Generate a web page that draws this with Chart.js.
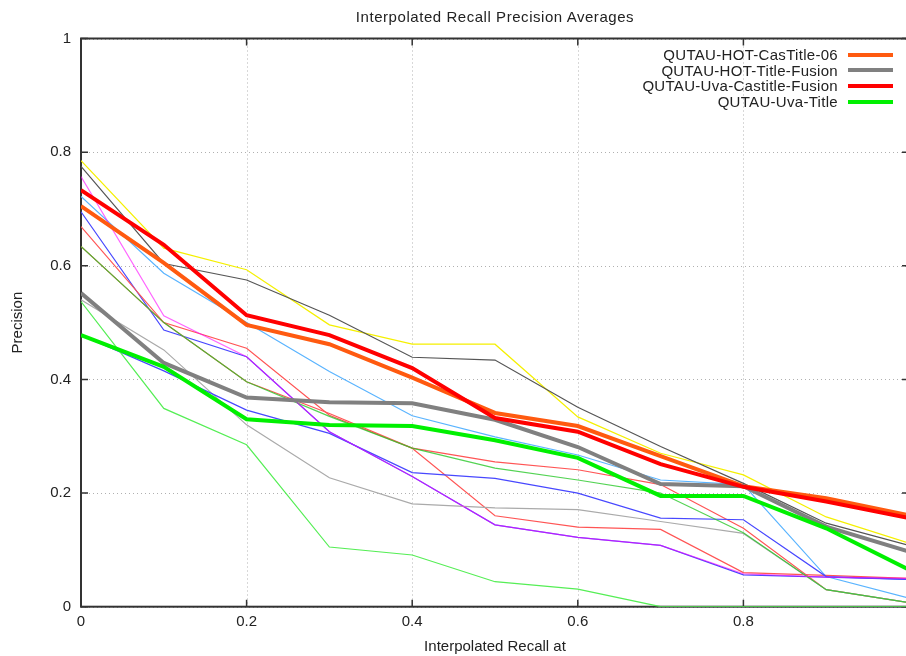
<!DOCTYPE html>
<html>
<head>
<meta charset="utf-8">
<script src="https://cdn.jsdelivr.net/npm/chart.js@4.4.0/dist/chart.umd.min.js"></script>
<style>
  html, body { margin: 0; padding: 0; background: #fff; overflow: hidden; }
  #wrap { position: relative; width: 910px; height: 656px; }
  #title { position: absolute; top: 8px; left: 81px; width: 828px; text-align: center;
           font: 15px "Liberation Sans", Arial, sans-serif; letter-spacing: 0.55px; color: #222; }
  #legend { position: absolute; top: 47px; right: 17px; font: 15px "Liberation Sans", Arial, sans-serif;
            letter-spacing: 0.3px; color: #222; }
  #legend .row { display: flex; align-items: center; justify-content: flex-end; height: 15.6px; }
  #legend .swatch { width: 45px; height: 4px; margin-left: 10px; }
</style>
</head>
<body>
<div id="wrap">
  <canvas id="rp" width="910" height="656"></canvas>
  <div id="title">Interpolated Recall Precision Averages</div>
  <div id="legend"></div>
</div>
<script>
// axes
const recall = [0, 0.1, 0.2, 0.3, 0.4, 0.5, 0.6, 0.7, 0.8, 0.9, 1];
const recallTicks = [0, 0.2, 0.4, 0.6, 0.8, 1];
const recallLabels = ['0', '0.2', '0.4', '0.6', '0.8', ''];
const precisionTicks = [0, 0.2, 0.4, 0.6, 0.8, 1];
const precisionLabels = ['0', '0.2', '0.4', '0.6', '0.8', '1'];

// runs mises en avant (legende)
const names = ['QUTAU-HOT-CasTitle-06', 'QUTAU-HOT-Title-Fusion', 'QUTAU-Uva-Castitle-Fusion', 'QUTAU-Uva-Title'];
const hotCasTitle06 = [0.705, 0.605, 0.496, 0.462, 0.403, 0.341, 0.318, 0.265, 0.212, 0.191, 0.161];
const hotTitleFusion = [0.552, 0.429, 0.368, 0.360, 0.358, 0.329, 0.281, 0.216, 0.212, 0.141, 0.097];
const uvaCastitleFusion = [0.733, 0.637, 0.513, 0.478, 0.420, 0.332, 0.308, 0.251, 0.211, 0.185, 0.156];
const uvaTitle = [0.478, 0.422, 0.330, 0.320, 0.318, 0.293, 0.262, 0.195, 0.195, 0.138, 0.065];

// autres runs (traits fins)
const runYellow = [0.785, 0.631, 0.593, 0.496, 0.462, 0.462, 0.334, 0.270, 0.232, 0.158, 0.112];
const runDarkGray = [0.775, 0.604, 0.575, 0.513, 0.439, 0.434, 0.351, 0.282, 0.217, 0.147, 0.108];
const runMagenta = [0.757, 0.512, 0.440, 0.308, 0.229, 0.144, 0.122, 0.108, 0.058, 0.052, 0.050];
const runSkyBlue = [0.722, 0.587, 0.500, 0.414, 0.336, 0.299, 0.267, 0.223, 0.215, 0.053, 0.015];
const runBlue = [0.695, 0.487, 0.440, 0.308, 0.229, 0.144, 0.122, 0.108, 0.056, 0.052, 0.048];
const runRedA = [0.669, 0.500, 0.455, 0.337, 0.279, 0.160, 0.140, 0.136, 0.060, 0.055, 0.050];
const runRedB = [0.634, 0.500, 0.396, 0.340, 0.279, 0.255, 0.241, 0.215, 0.138, 0.030, 0.007];
const runGreen = [0.634, 0.500, 0.396, 0.335, 0.279, 0.244, 0.223, 0.200, 0.130, 0.030, 0.007];
const runLightGray = [0.540, 0.452, 0.320, 0.227, 0.181, 0.174, 0.171, 0.150, 0.129, 0.030, 0.007];
const runLightGreen = [0.537, 0.349, 0.285, 0.105, 0.091, 0.044, 0.031, 0, 0, 0, 0];
const runBlue2 = [0.478, 0.415, 0.346, 0.305, 0.236, 0.226, 0.200, 0.156, 0.153, 0.053, 0.048];

const pts = arr => arr.map((v, i) => ({ x: recall[i], y: v }));

function thin(values, color, order) {
  return { data: pts(values), borderColor: color, borderWidth: 1.2, pointRadius: 0, order: order };
}
function thick(label, values, color, order) {
  return { label: label, data: pts(values), borderColor: color, borderWidth: 4, pointRadius: 0, order: order };
}

const thickColors = ['#ff5a10', '#808080', '#ff0000', '#00f000'];

const datasets = [
  thick(names[0], hotCasTitle06, thickColors[0], 4),
  thick(names[1], hotTitleFusion, thickColors[1], 3),
  thick(names[2], uvaCastitleFusion, thickColors[2], 2),
  thick(names[3], uvaTitle, thickColors[3], 1),
  thin(runYellow, '#f5f000', 20),
  thin(runDarkGray, '#555555', 19),
  thin(runMagenta, 'rgba(255,0,255,0.6)', 10),
  thin(runSkyBlue, '#5ab4ff', 18),
  thin(runBlue, '#4848ff', 17),
  thin(runRedA, '#ff5555', 16),
  thin(runRedB, '#ff5555', 15),
  thin(runGreen, 'rgba(40,200,40,0.8)', 11),
  thin(runLightGray, '#aaaaaa', 14),
  thin(runLightGreen, '#55ee55', 12),
  thin(runBlue2, '#4848ff', 13)
];

// grille pointillee, cadre + graduations vers l'interieur (style gnuplot)
const frameTicks = {
  id: 'frameTicks',
  beforeDatasetsDraw(chart) {
    const { ctx, chartArea: a, scales: { x, y } } = chart;
    ctx.save();
    ctx.strokeStyle = '#b0b0b0';
    ctx.lineWidth = 1;
    ctx.setLineDash([1, 3]);
    ctx.beginPath();
    recallTicks.forEach(v => {
      const px = Math.round(x.getPixelForValue(v)) + 0.5;
      ctx.moveTo(px, a.top); ctx.lineTo(px, a.bottom);
    });
    precisionTicks.forEach(v => {
      const py = Math.round(y.getPixelForValue(v)) + 0.5;
      ctx.moveTo(a.left, py); ctx.lineTo(a.right, py);
    });
    ctx.stroke();
    ctx.setLineDash([]);
    ctx.strokeStyle = '#333';
    ctx.lineWidth = 2;
    ctx.strokeRect(a.left, a.top, a.right - a.left, a.bottom - a.top);
    ctx.lineWidth = 1.5;
    ctx.beginPath();
    recallTicks.forEach(v => {
      const px = x.getPixelForValue(v);
      ctx.moveTo(px, a.bottom); ctx.lineTo(px, a.bottom - 7);
      ctx.moveTo(px, a.top); ctx.lineTo(px, a.top + 7);
    });
    precisionTicks.forEach(v => {
      const py = y.getPixelForValue(v);
      ctx.moveTo(a.left, py); ctx.lineTo(a.left + 7, py);
      ctx.moveTo(a.right, py); ctx.lineTo(a.right - 7, py);
    });
    ctx.stroke();
    ctx.restore();
  }
};

// espacement des lettres un peu plus large, comme le rendu d'origine
const spacing = {
  id: 'spacing',
  beforeInit(chart) { chart.ctx.letterSpacing = '0.6px'; }
};

const font = { family: '"Liberation Sans", Arial, sans-serif', size: 15 };

new Chart(document.getElementById('rp'), {
  type: 'line',
  data: { datasets: datasets },
  options: {
    responsive: false,
    animation: false,
    devicePixelRatio: 1,
    layout: { padding: { top: 38.5, right: 1, left: 0, bottom: 0 } },
    plugins: { legend: { display: false }, tooltip: { enabled: false } },
    scales: {
      x: {
        type: 'linear', min: 0, max: 1,
        afterBuildTicks: s => { s.ticks = recallTicks.map(v => ({ value: v })); },
        afterFit: s => { s.height = 49.3; s.paddingLeft = 0; s.paddingRight = 0; },
        ticks: { color: '#222', font: font, padding: 6, maxRotation: 0,
                 callback: (v) => recallLabels[recallTicks.indexOf(v)] },
        grid: { display: false, drawTicks: false },
        border: { display: false },
        title: { display: true, text: 'Interpolated Recall at', color: '#222', font: font, padding: { top: 4, bottom: 0 } }
      },
      y: {
        type: 'linear', min: 0, max: 1,
        afterBuildTicks: s => { s.ticks = precisionTicks.map(v => ({ value: v })); },
        afterFit: s => { s.width = 81; s.paddingTop = 0; s.paddingBottom = 0; },
        ticks: { color: '#222', font: font, padding: 10,
                 callback: (v) => precisionLabels[precisionTicks.indexOf(v)] },
        grid: { display: false, drawTicks: false },
        border: { display: false },
        title: { display: true, text: 'Precision', color: '#222', font: font, padding: { top: 9, bottom: 0 } }
      }
    }
  },
  plugins: [spacing, frameTicks]
});

// legende facon gnuplot : texte aligne a droite, trait a droite
const legend = document.getElementById('legend');
names.forEach((n, i) => {
  const row = document.createElement('div');
  row.className = 'row';
  row.innerHTML = '<span>' + n + '</span><span class="swatch" style="background:' + thickColors[i] + '"></span>';
  legend.appendChild(row);
});
</script>
</body>
</html>
